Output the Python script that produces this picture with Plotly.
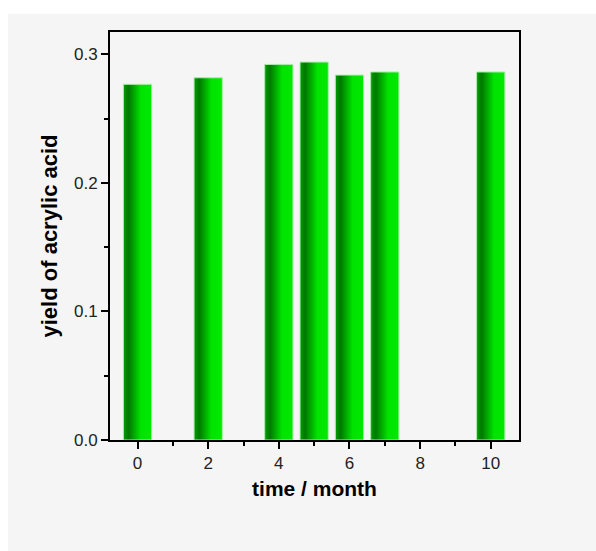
import plotly.graph_objects as go

# Yield of acrylic acid measured over storage time
months = [0, 2, 4, 5, 6, 7, 10]
yields = [0.2766, 0.2817, 0.2921, 0.2939, 0.2838, 0.2862, 0.2862]

x_tick_vals = [0, 2, 4, 6, 8, 10]
y_tick_vals = [0.0, 0.1, 0.2, 0.3]
y_tick_text = ["0.0", "0.1", "0.2", "0.3"]

BAR_WIDTH = 0.8

# cylinder-like shading across each bar
bar_shading = [
    [0.0, "rgb(0,158,0)"],
    [0.18, "rgb(0,120,0)"],
    [0.62, "rgb(0,228,0)"],
    [1.0, "rgb(0,232,0)"],
]

fig = go.Figure()
half = BAR_WIDTH / 2
for m, v in zip(months, yields):
    fig.add_trace(go.Scatter(
        x=[m - half, m - half, m + half, m + half, m - half],
        y=[0, v, v, 0, 0],
        mode="lines",
        fill="toself",
        fillgradient=dict(type="horizontal", colorscale=bar_shading,
                          start=m - half, stop=m + half),
        line=dict(color="#a8eea8", width=1),
        hoverinfo="skip",
        showlegend=False,
    ))

font_family = "Liberation Sans, Arial, sans-serif"

fig.update_layout(
    width=596, height=551,
    margin=dict(l=110, r=77, t=32, b=111),
    paper_bgcolor="white",
    plot_bgcolor="#f5f5f5",
    showlegend=False,
    font=dict(family=font_family, color="black", size=17),
    shapes=[dict(
        type="rect", xref="paper", yref="paper",
        x0=(8 - 110) / 409, x1=1.3, y0=-0.35, y1=(440 - 14) / 408,
        fillcolor="#f5f5f5", line=dict(width=0), layer="below",
    )],
)

fig.update_xaxes(
    range=[-0.78, 10.8],
    tickvals=x_tick_vals,
    ticks="outside", ticklen=7, tickwidth=2, tickcolor="black",
    minor=dict(dtick=1, tick0=0, ticks="outside", ticklen=4, tickwidth=2, tickcolor="black"),
    showline=True, linecolor="black", linewidth=2, mirror=True,
    showgrid=False, zeroline=False,
    layer="below traces",
    tickfont=dict(size=17, family=font_family, color="#222"),
    title=dict(text="<b>time / month</b>", font=dict(size=21, family=font_family), standoff=9),
)

fig.update_yaxes(
    range=[0, 0.3173],
    tickvals=y_tick_vals, ticktext=y_tick_text,
    ticks="outside", ticklen=7, tickwidth=2, tickcolor="black",
    minor=dict(dtick=0.05, tick0=0, ticks="outside", ticklen=4, tickwidth=2, tickcolor="black"),
    showline=True, linecolor="black", linewidth=2, mirror=True,
    showgrid=False, zeroline=False,
    layer="below traces",
    tickfont=dict(size=17, family=font_family, color="#222"),
    title=dict(text="<b>yield of acrylic acid</b>", font=dict(size=22, family=font_family), standoff=10),
)

fig.write_html("out.html")
